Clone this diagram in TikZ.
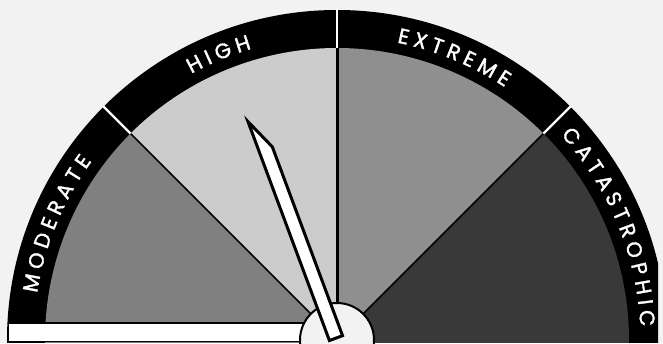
\documentclass[tikz,border=0pt]{standalone}
\usepackage{fontspec}
\newfontfamily\gfont[FakeBold=1.6]{Poppins}
\definecolor{bg}{HTML}{F2F2F2}
\definecolor{cmod}{HTML}{808080}
\definecolor{chigh}{HTML}{CCCCCC}
\definecolor{cext}{HTML}{8F8F8F}
\definecolor{ccat}{HTML}{393939}
\newcommand\lettfont{\gfont\fontsize{21}{21}\selectfont}
\newlength\lw
\newcommand\track{5}
\newcommand\storew[1]{\settowidth\lw{\lettfont #1}\expandafter\xdef\csname lw#1\endcsname{\the\lw}}
\newcommand\arcword[4]{%
  \xdef\acc{0}%
  \foreach \ch in {#4}{%
    \pgfmathparse{\acc+\csname lw\ch\endcsname+\track}\xdef\acc{\pgfmathresult}}%
  \pgfmathsetmacro\tot{\acc-\track}%
  \xdef\tot{\tot}%
  \xdef\pos{0}%
  \foreach \ch [count=\i] in {#4}{%
    \edef\lwd{\csname lw\ch\endcsname}%
    \pgfmathsetmacro\ang{#2+(\tot/2-\pos-\lwd/2)/#3*180/pi}%
    \node[letter, rotate=\ang-90] (#1\i) at ([shift={(337,3)}]\ang:#3) {\ch};
    \pgfmathparse{\pos+\lwd+\track}\xdef\pos{\pgfmathresult}}%
}
\begin{document}
\storew{A}\storew{C}\storew{D}\storew{E}\storew{G}\storew{H}\storew{I}%
\storew{M}\storew{O}\storew{P}\storew{R}\storew{S}\storew{T}\storew{X}%
\begin{tikzpicture}[x=1pt,y=1pt,
  letter/.style={anchor=base, inner sep=0pt, text=white, font=\lettfont},
  wedgeline/.style={draw=black, line width=1.5pt},
  bandline/.style={draw=white, line width=2.2pt},
  needlestyle/.style={fill=white, draw=black, line width=3pt, line join=miter}]
\useasboundingbox (0,0) rectangle (663,343);
\fill[bg] (0,0) rectangle (663,343);
\coordinate (C) at (337,3);
\begin{scope}
  \clip (7,1) rectangle (658,343);
  \fill[black] (C) circle[radius=330];
  % wedges
  \fill[cmod] (C) -- (45,3) arc[start angle=180,end angle=135,radius=292] -- cycle;
  \fill[cmod] (45,-1) rectangle (337,3);
  \fill[chigh] (C) -- ([shift={(C)}]135:292) arc[start angle=135,end angle=90,radius=292] -- cycle;
  \fill[cext] (C) -- ([shift={(C)}]90:292) arc[start angle=90,end angle=45,radius=292] -- cycle;
  \fill[ccat] (C) -- ([shift={(C)}]45:292) arc[start angle=45,end angle=0,radius=292] -- cycle;
  \fill[ccat] (337,-1) rectangle (629,3);
  % divider lines in wedges
  \coordinate (i1) at ([shift={(C)}]135:292);
  \coordinate (i2) at ([shift={(C)}]90:292);
  \coordinate (i3) at ([shift={(C)}]45:292);
  \coordinate (o1) at ([shift={(C)}]135:331);
  \coordinate (o2) at ([shift={(C)}]90:331);
  \coordinate (o3) at ([shift={(C)}]45:331);
  \draw[wedgeline] (C) -- (i1);
  \draw[wedgeline] (C) -- (i3);
  \draw[draw=black, line width=3pt] (C) -- (i2);
  \draw[bandline] (i1) -- (o1);
  \draw[bandline] (i2) -- (o2);
  \draw[bandline] (i3) -- (o3);
\end{scope}
% labels
\arcword{m}{157.5}{303.5}{M,O,D,E,R,A,T,E}
\arcword{h}{112.5}{303.5}{H,I,G,H}
\arcword{e}{67.5}{303.5}{E,X,T,R,E,M,E}
\arcword{c}{22.5}{303.5}{C,A,T,A,S,T,R,O,P,H,I,C}
% bar
\draw[fill=white, draw=black, line width=1.6pt] (8.5,1.5) rectangle (315,20) node (bar) {};
% pivot
\node[circle, fill=bg, draw=black, line width=2pt, minimum size=74pt, inner sep=0pt] (pivot) at (C) {};
% needle
\begin{scope}[shift={(336.5,3.5)}, rotate=110.4]
  \draw[needlestyle] (1.5,7) -- (235,7) -- (203,-7) -- (1.5,-7) -- cycle;
\end{scope}
\end{tikzpicture}
\end{document}
